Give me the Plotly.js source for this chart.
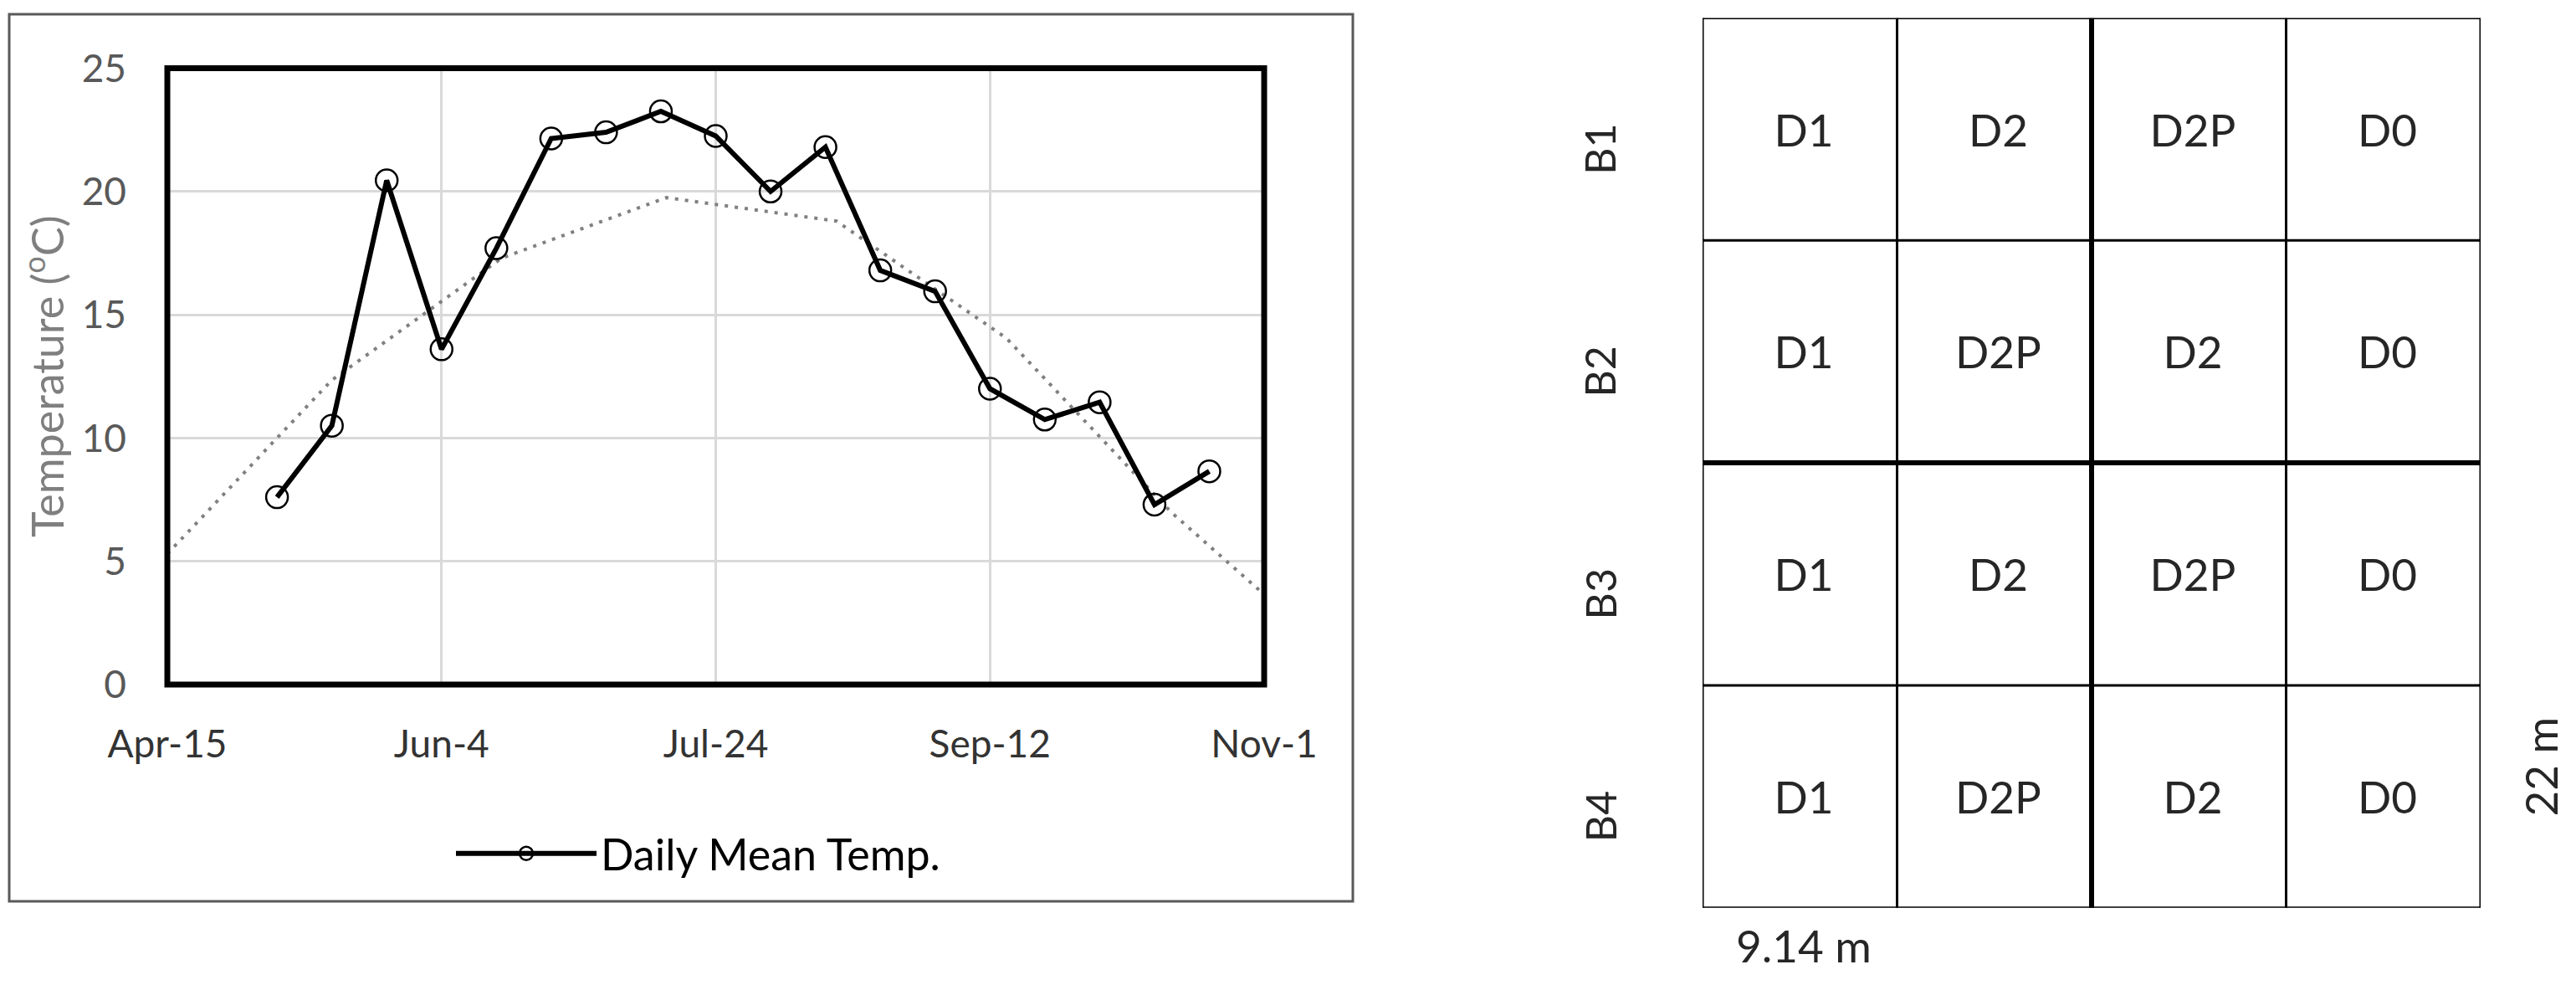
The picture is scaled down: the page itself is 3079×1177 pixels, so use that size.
<!DOCTYPE html>
<html>
<head>
<meta charset="utf-8">
<script src="https://cdn.plot.ly/plotly-3.0.1.min.js"></script>
<style>
  html, body { margin: 0; padding: 0; background: #ffffff; }
  #chart { width: 3079px; height: 1177px; }
</style>
</head>
<body>
<div id="chart"></div>
<script>
// ---------------- data: left chart ----------------
const sampleDates = ['2019-05-05','2019-05-15','2019-05-25','2019-06-04','2019-06-14','2019-06-24',
  '2019-07-04','2019-07-14','2019-07-24','2019-08-03','2019-08-13','2019-08-23',
  '2019-09-02','2019-09-12','2019-09-22','2019-10-02','2019-10-12','2019-10-22'];
const dailyMeanTemp = [7.6, 10.5, 20.45, 13.6, 17.7, 22.15, 22.4, 23.25, 22.25, 20.0, 21.8, 16.8,
  15.95, 12.0, 10.75, 11.45, 7.3, 8.65];
const normalDates = ['2019-04-15','2019-05-15','2019-06-15','2019-07-15','2019-08-15',
  '2019-09-15','2019-10-15','2019-11-15'];
const normalTemp = [5.3, 12.35, 17.3, 19.75, 18.8, 14.05, 7.0, 0.9];
const xTickVals = ['2019-04-15','2019-06-04','2019-07-24','2019-09-12','2019-11-01'];
const xTickText = ['Apr-15','Jun-4','Jul-24','Sep-12','Nov-1'];
const yTickVals = [0, 5, 10, 15, 20, 25];
const seriesName = 'Daily Mean Temp.';
const yTitle = 'Temperature (<sup>o</sup>C)';

// ---------------- data: right plot layout ----------------
const blocks = ['B1','B2','B3','B4'];
const plotLabels = [
  ['D1','D2','D2P','D0'],
  ['D1','D2P','D2','D0'],
  ['D1','D2','D2P','D0'],
  ['D1','D2P','D2','D0']
];
const widthLabel = '9.14 m';
const lengthLabel = '22 m';

// ---------------- build ----------------
const W = 3079, H = 1177;
const FONT = 'Lato, "Open Sans", sans-serif';

const nCols = plotLabels[0].length;
const nRows = blocks.length;

// cell label positions from grid indices
const cellX = [], cellY = [], cellText = [];
plotLabels.forEach((row, r) => row.forEach((lab, c) => {
  cellX.push(c + 0.52); cellY.push(r + 0.526); cellText.push(lab);
}));

const traces = [
  {
    x: normalDates, y: normalTemp, type: 'scatter', mode: 'lines',
    line: { color: '#808080', width: 4, dash: '4px,8px' },
    showlegend: false, hoverinfo: 'skip', xaxis: 'x', yaxis: 'y'
  },
  {
    x: sampleDates, y: dailyMeanTemp, type: 'scatter', mode: 'lines+markers',
    name: seriesName,
    line: { color: '#000000', width: 6 },
    marker: { symbol: 'circle-open', size: 26, color: '#000000', line: { width: 2.5, color: '#000000' } },
    xaxis: 'x', yaxis: 'y'
  },
  {
    x: cellX, y: cellY, text: cellText, type: 'scatter', mode: 'text',
    textfont: { family: FONT, size: 53, color: '#262626' },
    showlegend: false, hoverinfo: 'skip', xaxis: 'x2', yaxis: 'y2', cliponaxis: false
  }
];

const shapes = [];
// outer frame of left chart
shapes.push({ type: 'rect', xref: 'paper', yref: 'paper',
  x0: 11 / W, x1: 1617 / W, y0: 1 - 1077 / H, y1: 1 - 17 / H,
  line: { color: '#595959', width: 3 }, fillcolor: 'rgba(0,0,0,0)', layer: 'below' });
// plot-area border
shapes.push({ type: 'rect', xref: 'x domain', yref: 'y domain', x0: 0, x1: 1, y0: 0, y1: 1,
  line: { color: '#000000', width: 7 }, layer: 'above' });
// plot grid lines (thick at the middle)
for (let c = 0; c <= nCols; c++) {
  const thick = c === nCols / 2;
  const ext = (c > 0 && c < nCols) ? 0.018 : 0;
  shapes.push({ type: 'line', xref: 'x2', yref: 'y2', x0: c, x1: c, y0: 0, y1: nRows + ext,
    line: { color: '#000000', width: thick ? 6 : 3 } });
}
for (let r = 0; r <= nRows; r++) {
  const thick = r === nRows / 2;
  shapes.push({ type: 'line', xref: 'x2', yref: 'y2', x0: 0, x1: nCols + 0.04, y0: r, y1: r,
    line: { color: '#000000', width: thick ? 6 : 3 } });
}

// labels around the field plan, placed relative to the plan's axis domain
const annotations = [];
blocks.forEach((b, r) => annotations.push({
  xref: 'x2 domain', yref: 'y2 domain', x: -0.527 / nCols, y: 1 - (r + 0.59) / nRows,
  text: b, showarrow: false, textangle: -90,
  xanchor: 'center', yanchor: 'middle', font: { family: FONT, size: 50, color: '#262626' }
}));
annotations.push({ xref: 'x2 domain', yref: 'y2 domain', x: 0.52 / nCols, y: -0.17 / nRows,
  text: widthLabel, showarrow: false,
  xanchor: 'center', yanchor: 'middle', font: { family: FONT, size: 53, color: '#262626' } });
annotations.push({ xref: 'x2 domain', yref: 'y2 domain', x: 1 + 0.308 / nCols, y: 1 - 3.365 / nRows,
  text: lengthLabel, showarrow: false, textangle: -90,
  xanchor: 'center', yanchor: 'middle', font: { family: FONT, size: 53, color: '#262626' } });

const layout = {
  width: W, height: H,
  margin: { l: 0, r: 0, t: 0, b: 0, pad: 0 },
  paper_bgcolor: '#ffffff', plot_bgcolor: '#ffffff',
  font: { family: FONT },
  showlegend: true,
  legend: {
    orientation: 'h', x: 540 / W, xanchor: 'left', y: 1 - 1020 / H, yanchor: 'middle',
    itemwidth: 168,
    font: { family: FONT, size: 52, color: '#000000' }, bgcolor: 'rgba(0,0,0,0)'
  },
  xaxis: {
    type: 'date', domain: [200 / W, 1511 / W], anchor: 'y',
    range: ['2019-04-15', '2019-11-01'],
    tickmode: 'array', tickvals: xTickVals, ticktext: xTickText,
    showgrid: true, gridcolor: '#d9d9d9', gridwidth: 3,
    zeroline: false, showline: false, ticks: '',
    tickfont: { family: FONT, size: 46, color: '#333333' },
    ticklabelstandoff: 40, fixedrange: true
  },
  yaxis: {
    domain: [1 - 818 / H, 1 - 81.5 / H], anchor: 'x',
    range: [0, 25], tickmode: 'array', tickvals: yTickVals,
    showgrid: true, gridcolor: '#d9d9d9', gridwidth: 3,
    zeroline: false, showline: false, ticks: '',
    tickfont: { family: FONT, size: 46, color: '#595959' },
    ticklabelstandoff: 48,
    title: { text: yTitle, font: { family: FONT, size: 52, color: '#7f7f7f' }, standoff: 4 },
    fixedrange: true
  },
  xaxis2: { domain: [2035 / W, 2965 / W], anchor: 'y2', range: [0, nCols], visible: false, fixedrange: true },
  yaxis2: { domain: [1 - 1084.7 / H, 1 - 21.5 / H], anchor: 'x2', range: [nRows, 0], visible: false, fixedrange: true },
  shapes: shapes,
  annotations: annotations
};

Plotly.newPlot('chart', traces, layout, { staticPlot: true, displayModeBar: false });
</script>
</body>
</html>
